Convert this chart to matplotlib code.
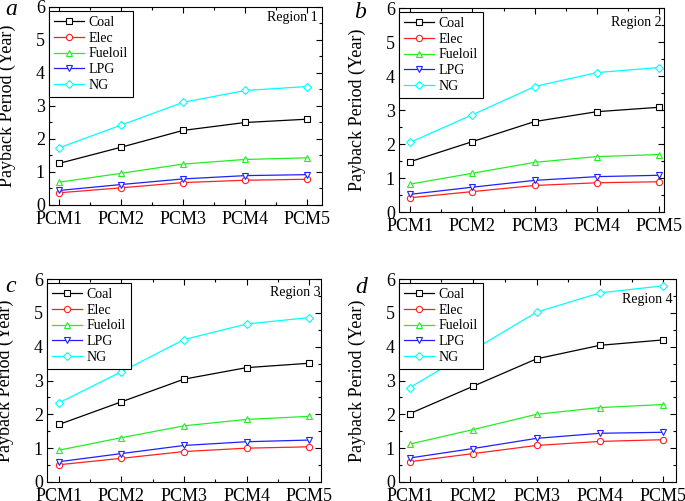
import matplotlib
matplotlib.use('Agg')
import matplotlib.pyplot as plt
from matplotlib.ticker import MultipleLocator

plt.rcParams['font.family'] = 'Liberation Serif'

pcm = ['PCM1', 'PCM2', 'PCM3', 'PCM4', 'PCM5']
fuels = ['Coal', 'Elec', 'Fueloil', 'LPG', 'NG']

# payback period (year) per region
region1 = {
    'Coal': [1.26, 1.75, 2.26, 2.50, 2.60],
    'Elec': [0.37, 0.52, 0.68, 0.75, 0.78],
    'Fueloil': [0.69, 0.96, 1.24, 1.38, 1.43],
    'LPG': [0.44, 0.62, 0.79, 0.89, 0.92],
    'NG': [1.73, 2.42, 3.11, 3.47, 3.59],
}
region2 = {
    'Coal': [1.48, 2.07, 2.66, 2.95, 3.08],
    'Elec': [0.42, 0.60, 0.78, 0.86, 0.89],
    'Fueloil': [0.82, 1.14, 1.46, 1.63, 1.69],
    'LPG': [0.52, 0.73, 0.93, 1.04, 1.08],
    'NG': [2.05, 2.86, 3.69, 4.10, 4.25],
}
region3 = {
    'Coal': [1.70, 2.37, 3.04, 3.38, 3.51],
    'Elec': [0.51, 0.70, 0.90, 1.00, 1.04],
    'Fueloil': [0.94, 1.31, 1.66, 1.85, 1.94],
    'LPG': [0.60, 0.84, 1.08, 1.19, 1.24],
    'NG': [2.34, 3.26, 4.21, 4.67, 4.86],
}
region4 = {
    'Coal': [2.02, 2.83, 3.64, 4.04, 4.20],
    'Elec': [0.60, 0.84, 1.08, 1.20, 1.25],
    'Fueloil': [1.12, 1.55, 2.00, 2.20, 2.29],
    'LPG': [0.71, 0.99, 1.29, 1.44, 1.47],
    'NG': [2.79, 3.90, 5.02, 5.59, 5.80],
}

colors = {'Coal': 'black', 'Elec': '#ff2020', 'Fueloil': '#22ee22', 'LPG': '#2020ff', 'NG': '#00ffff'}
markers = {'Coal': 's', 'Elec': 'o', 'Fueloil': '^', 'LPG': 'v', 'NG': 'D'}
msize = {'Coal': 4, 'Elec': 4.5, 'Fueloil': 5, 'LPG': 5, 'NG': 4.2}

W, H = 685, 501
# (data, letter, region text, axes box px [left, top, right, bottom], xlim,
#  letter pos px, region text right x / baseline y px)
panels = [
    (region1, 'a', 'Region 1', (49, 7, 322, 205), (0.84, 5.24), (5, 15), (318, 21)),
    (region2, 'b', 'Region 2', (399, 8, 664, 212), (0.82, 5.08), (354, 18), (662, 26)),
    (region3, 'c', 'Region 3', (47, 279, 321, 482), (0.81, 5.19), (5, 292), (320, 296)),
    (region4, 'd', 'Region 4', (399, 279, 676, 482), (0.83, 5.2), (355, 293), (673, 303)),
]

fig = plt.figure(figsize=(6.85, 5.01), dpi=100)

for data, letter, title, box, xl, lpos, rpos in panels:
    l, t, r, b = box
    ax = fig.add_axes([l / W, 1 - b / H, (r - l) / W, (b - t) / H])
    x = range(1, 6)
    for f in fuels:
        ax.plot(x, data[f], color=colors[f], marker=markers[f], ms=msize[f],
                mfc='white', mec=colors[f], lw=0.9, mew=0.8, label=f)
    ax.set_xlim(*xl)
    ax.set_ylim(0, 6)
    ax.set_xticks(list(x))
    ax.set_xticklabels(pcm)
    ax.xaxis.set_minor_locator(MultipleLocator(0.5))
    ax.yaxis.set_major_locator(MultipleLocator(1))
    ax.yaxis.set_minor_locator(MultipleLocator(0.5))
    ax.tick_params(which='both', direction='in', top=True, right=True, labelsize=13)
    ax.tick_params(which='major', length=4, width=0.8)
    ax.tick_params(which='minor', length=2.5, width=0.8)
    ax.tick_params(axis='x', pad=4)
    ax.tick_params(axis='y', pad=3)
    for s in ax.spines.values():
        s.set_linewidth(0.8)
    ax.set_ylabel('Payback Period (Year)', fontsize=13)
    ax.yaxis.set_label_coords(-33 / (r - l), 0.5)
    leg = ax.legend(loc='upper left', bbox_to_anchor=(0.0, 1 - 4 / (b - t)), fontsize=10,
                    frameon=True, fancybox=False, edgecolor='black', framealpha=1,
                    handlelength=2.15, handletextpad=0.35, labelspacing=0.2,
                    borderpad=0.35, borderaxespad=0.0)
    leg.get_frame().set_linewidth(0.8)
    ax.text((rpos[0] - l) / (r - l), 1 - (rpos[1] - t) / (b - t), title,
            transform=ax.transAxes, ha='right', va='baseline', fontsize=10)
    fig.text(lpos[0] / W, 1 - lpos[1] / H, letter, fontsize=17, style='italic',
             ha='left', va='baseline')

fig.savefig('out.png', dpi=100)
